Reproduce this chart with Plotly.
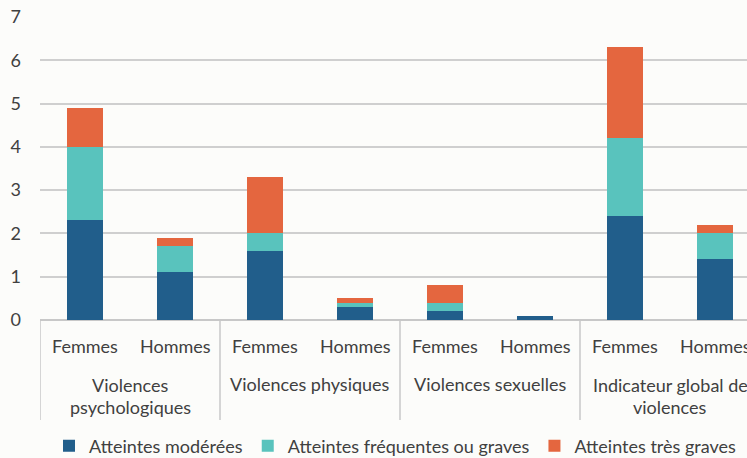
import plotly.graph_objects as go

groups = ["Violences<br>psychologiques", "Violences physiques", "Violences sexuelles", "Indicateur global de<br>violences"]
sexes = ["Femmes", "Hommes"]
series_names = ["Atteintes modérées", "Atteintes fréquentes ou graves", "Atteintes très graves"]

moderees = [2.3, 1.1, 1.6, 0.3, 0.2, 0.1, 2.4, 1.4]
frequentes = [1.7, 0.6, 0.4, 0.1, 0.2, 0.0, 1.8, 0.6]
tres_graves = [0.9, 0.2, 1.3, 0.1, 0.4, 0.0, 2.1, 0.2]
y_ticks = [0, 1, 2, 3, 4, 5, 6, 7]

colors = ["#215E8B", "#59C3BD", "#E4663F"]
FONT = "Lato"
TXT = "#404040"

W, H = 747, 458
ML, MT, MB = 40, 17, 138
plot_h = H - MT - MB
slot = 90.0
x_max = -0.5 + (W - ML) / slot

positions = list(range(len(groups) * len(sexes)))

fig = go.Figure()
for name, vals, c in zip(series_names, [moderees, frequentes, tres_graves], colors):
    fig.add_trace(go.Bar(x=positions, y=vals, name=name, marker=dict(color=c, line=dict(width=0)),
                         width=0.4))

def py(p):
    return (H - MB - p) / plot_h

annotations = []
for i, x in enumerate(positions):
    annotations.append(dict(x=x, y=py(346), xref="x", yref="paper", text=sexes[i % 2],
                            showarrow=False, xanchor="center", yanchor="middle",
                            font=dict(family=FONT, size=18, color=TXT)))
for g, label in enumerate(groups):
    lines = label.split("<br>")
    xc = 2 * g + 0.5
    ys = [384] if len(lines) == 1 else [385, 407]
    for ln, yp in zip(lines, ys):
        annotations.append(dict(x=xc, y=py(yp), xref="x", yref="paper", text=ln,
                                showarrow=False, xanchor="center", yanchor="middle",
                                font=dict(family=FONT, size=18, color=TXT)))

shapes = []
for g in range(len(groups)):
    xs = 2 * g - 0.5
    shapes.append(dict(type="line", xref="x", yref="paper", x0=xs, x1=xs, y0=0, y1=py(420),
                       line=dict(color="#c8c8c8", width=1.5)))

fig.update_layout(
    width=W, height=H,
    margin=dict(l=ML, r=0, t=MT, b=MB),
    paper_bgcolor="#fcfcfa", plot_bgcolor="#fcfcfa",
    barmode="stack",
    bargap=0,
    font=dict(family=FONT, size=18, color=TXT),
    xaxis=dict(range=[-0.5, x_max], showticklabels=False, showgrid=False, zeroline=False,
               showline=False, fixedrange=True),
    yaxis=dict(range=[0, 7], tickvals=y_ticks, showgrid=True, gridcolor="#cfcfcf", gridwidth=1.5,
               zeroline=True, zerolinecolor="#c8c8c8", zerolinewidth=1.5, showline=False,
               ticklabelstandoff=18, tickfont=dict(family=FONT, size=18, color=TXT)),
    legend=dict(orientation="h", xref="container", yref="container",
                x=49 / W, xanchor="left", y=(H - 446) / H, yanchor="middle",
                font=dict(family=FONT, size=18, color=TXT), bgcolor="rgba(0,0,0,0)",
                traceorder="normal", borderwidth=0),
    annotations=annotations,
    shapes=shapes,
)

fig.write_html("out.html", config={"displayModeBar": False},
               post_script="document.body.style.margin='0';document.body.style.overflow='hidden';")
